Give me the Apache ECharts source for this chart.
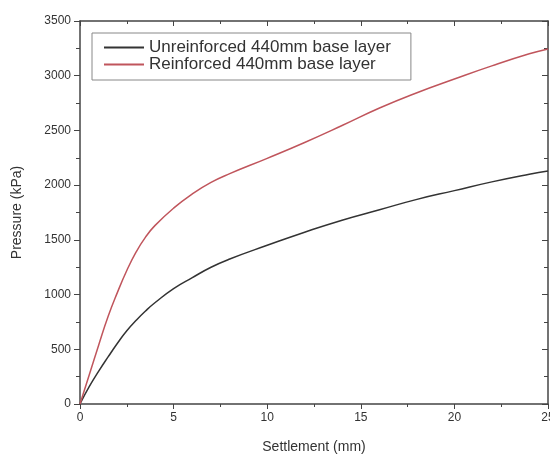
<!DOCTYPE html>
<html>
<head>
<meta charset="utf-8">
<script src="https://cdn.jsdelivr.net/npm/echarts@6/dist/echarts.min.js"></script>
<style>
  html, body { margin: 0; padding: 0; background: #fff; }
  #main { width: 550px; height: 457px; }
</style>
</head>
<body>
<div id="main"></div>
<script>
// settlement (mm) and pressure (kPa)
var settlement = [0, 0.5, 1, 1.5, 2, 2.5, 3, 3.5, 4, 5, 6, 7, 8, 10, 12, 14, 16, 18, 20, 22, 24, 25];
var unreinforced = [0, 160, 300, 430, 555, 670, 765, 850, 925, 1055, 1155, 1250, 1325, 1450, 1570, 1680, 1775, 1870, 1950, 2030, 2100, 2130];
var reinforced = [0, 270, 540, 800, 1020, 1220, 1390, 1525, 1630, 1790, 1920, 2025, 2105, 2245, 2390, 2545, 2705, 2845, 2970, 3090, 3200, 3245];
var seriesNames = ['Unreinforced 440mm base layer', 'Reinforced 440mm base layer'];

function pairs(ys) {
  return settlement.map(function (x, i) { return [x, ys[i]]; });
}

var axisColor = '#444';
var font = 'Liberation Sans, Arial';
var labelFont = { color: '#333', fontSize: 12, fontFamily: font, formatter: function (v) { return String(v); } };

var chart = echarts.init(document.getElementById('main'));
chart.setOption({
  animation: false,
  grid: { left: 80, top: 21, right: 2, bottom: 53, outerBoundsMode: 'none', containLabel: false },
  legend: {
    orient: 'vertical',
    left: 92,
    top: 33,
    padding: [6, 20, 7, 12],
    itemGap: 0,
    itemWidth: 40,
    itemHeight: 2,
    icon: 'rect',
    borderColor: '#888',
    borderWidth: 1,
    textStyle: { color: '#333', fontSize: 17, lineHeight: 16, fontFamily: font },
    data: seriesNames
  },
  xAxis: [{
    type: 'value', min: 0, max: 25, interval: 5,
    name: 'Settlement (mm)', nameLocation: 'middle', nameGap: 36,
    nameTextStyle: { color: '#333', fontSize: 14, fontFamily: font },
    axisLine: { onZero: false, lineStyle: { color: axisColor, width: 1.5 } },
    axisTick: { inside: false, length: 5, lineStyle: { color: axisColor } },
    minorTick: { show: true, splitNumber: 2, length: 3, lineStyle: { color: axisColor } },
    axisLabel: Object.assign({ margin: 8 }, labelFont),
    splitLine: { show: false }
  }, {
    type: 'value', position: 'top', min: 0, max: 25, interval: 5,
    axisLine: { show: true, onZero: false, lineStyle: { color: axisColor, width: 1.5 } },
    axisTick: { show: true, inside: true, length: 5, lineStyle: { color: axisColor } },
    minorTick: { show: true, splitNumber: 2, length: 3, lineStyle: { color: axisColor } },
    axisLabel: { show: false },
    splitLine: { show: false }
  }],
  yAxis: [{
    type: 'value', min: 0, max: 3500, interval: 500,
    name: 'Pressure (kPa)', nameLocation: 'middle', nameGap: 56,
    nameTextStyle: { color: '#333', fontSize: 14, fontFamily: font },
    axisLine: { show: true, onZero: false, lineStyle: { color: axisColor, width: 1.5 } },
    axisTick: { show: true, inside: false, length: 6, lineStyle: { color: axisColor } },
    minorTick: { show: true, splitNumber: 2, length: 4, lineStyle: { color: axisColor } },
    axisLabel: Object.assign({ margin: 9 }, labelFont),
    splitLine: { show: false }
  }, {
    type: 'value', position: 'right', min: 0, max: 3500, interval: 500,
    axisLine: { show: true, onZero: false, lineStyle: { color: axisColor, width: 1.5 } },
    axisTick: { show: true, inside: true, length: 6, lineStyle: { color: axisColor } },
    minorTick: { show: true, splitNumber: 2, length: 4, lineStyle: { color: axisColor } },
    axisLabel: { show: false },
    splitLine: { show: false }
  }],
  series: [{
    name: seriesNames[0], type: 'line', smooth: 0.5, symbol: 'none',
    lineStyle: { color: '#333', width: 1.5 }, itemStyle: { color: '#333' },
    data: pairs(unreinforced)
  }, {
    name: seriesNames[1], type: 'line', smooth: 0.5, symbol: 'none',
    lineStyle: { color: '#c0555c', width: 1.5 }, itemStyle: { color: '#c0555c' },
    data: pairs(reinforced)
  }]
});
</script>
</body>
</html>
